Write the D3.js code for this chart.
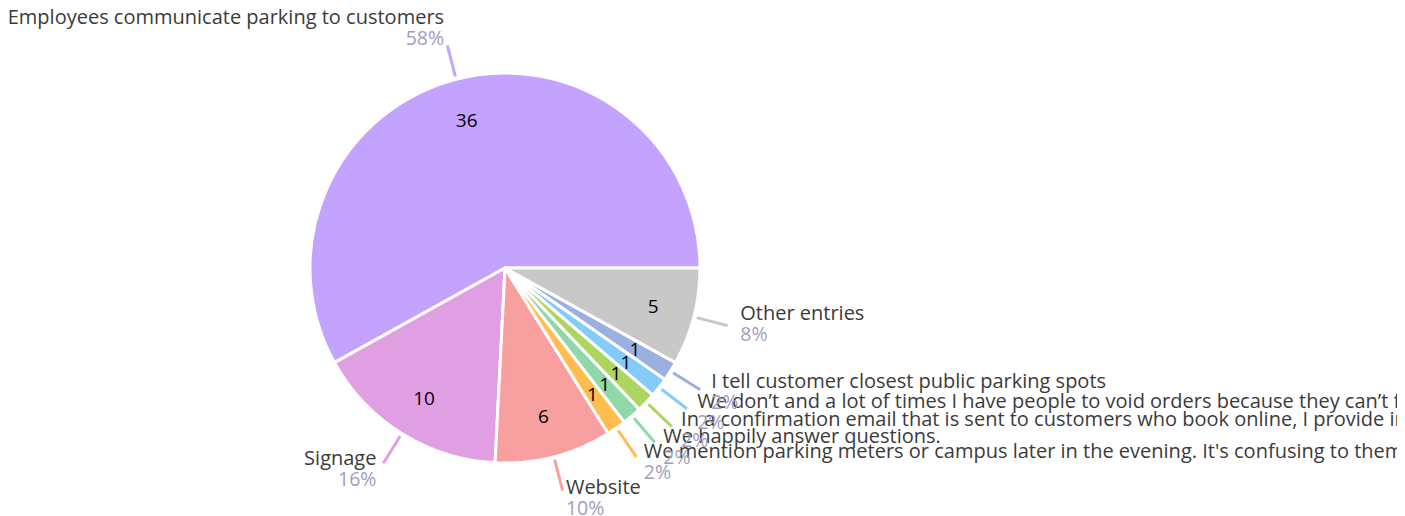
<!DOCTYPE html>
<html lang="en">
<head>
    <meta charset="UTF-8">
    <title>Parking communication</title>
    <script type="text/javascript" src="https://cdn.jsdelivr.net/npm/d3@7"></script>
    <style>
        body { margin: 0; background: #fff; }
        svg { display: block; overflow: hidden; }
        .name { fill: #3b3b3b; font-family: "Open Sans", sans-serif; font-size: 20px; }
        .pct { fill: #a19dbf; font-family: "Open Sans", sans-serif; font-size: 19.5px; }
        .count { fill: #000; font-family: "Open Sans", sans-serif; font-size: 19px; text-anchor: middle; }
    </style>
</head>
<body>
    <div id="chart"></div>

    <script type="text/javascript">

        // answers, in the order the slices run (counter-clockwise from 3 o'clock)
        var categories = [
            "Employees communicate parking to customers",
            "Signage",
            "Website",
            "We mention parking meters or campus later in the evening. It's confusing to them",
            "We happily answer questions.",
            "In a confirmation email that is sent to customers who book online, I provide information",
            "We don’t and a lot of times I have people to void orders because they can’t find parking",
            "I tell customer closest public parking spots",
            "Other entries"
        ];
        var counts = [36, 10, 6, 1, 1, 1, 1, 1, 5];

        var w = 1397,
            h = 516,
            cx = 505,
            cy = 268,
            r = 195;

        var color = d3.scaleOrdinal()
            .domain(categories)
            .range(["#c4a3ff", "#e09fe2", "#f8a09f", "#ffbc4f", "#8fd8a9",
                    "#add562", "#83cbf8", "#9bafe0", "#c8c8c8"]);

        var data = categories.map(function(c, i) { return {label: c, n: counts[i]}; });
        var total = d3.sum(counts);

        var svg = d3.select("#chart")
            .append("svg")
            .attr("width", w)
            .attr("height", h);

        var g = svg.append("g")
            .attr("transform", "translate(" + cx + "," + cy + ")");

        var pie = d3.pie()
            .sort(null)
            .value(function(d) { return d.n; })
            .startAngle(Math.PI / 2)
            .endAngle(Math.PI / 2 - 2 * Math.PI);

        var arcs = pie(data);

        var arc = d3.arc().innerRadius(0).outerRadius(r);

        // slices
        g.selectAll(".slice")
            .data(arcs)
            .enter()
            .append("path")
            .attr("class", "slice")
            .attr("d", arc)
            .attr("fill", function(d) { return color(d.data.label); })
            .attr("stroke", "#fff")
            .attr("stroke-width", 3)
            .attr("stroke-linejoin", "round");

        function mid(d) { return (d.startAngle + d.endAngle) / 2; }
        function pt(d, rr) {
            var a = mid(d);
            return [Math.sin(a) * rr, -Math.cos(a) * rr];
        }

        // counts inside slices
        g.selectAll(".count")
            .data(arcs)
            .enter()
            .append("text")
            .attr("class", "count")
            .attr("x", function(d) { return pt(d, r * 0.785)[0]; })
            .attr("y", function(d) { return pt(d, r * 0.785)[1] + 7; })
            .text(function(d) { return d.data.n; });

        // leader lines
        g.selectAll(".leader")
            .data(arcs)
            .enter()
            .append("line")
            .attr("class", "leader")
            .attr("x1", function(d) { return pt(d, r + 3)[0]; })
            .attr("y1", function(d) { return pt(d, r + 3)[1]; })
            .attr("x2", function(d) { return pt(d, r + 35)[0]; })
            .attr("y2", function(d) { return pt(d, r + 35)[1]; })
            .attr("stroke", function(d) { return color(d.data.label); })
            .attr("stroke-width", 3);

        // outside labels: name + percentage
        var labels = g.selectAll(".label")
            .data(arcs)
            .enter()
            .append("g")
            .attr("class", "label")
            .attr("transform", function(d) {
                var p = pt(d, r + 48);
                return "translate(" + p[0] + "," + p[1] + ")";
            })
            .attr("text-anchor", function(d) { return pt(d, 1)[0] >= 0 ? "start" : "end"; });

        labels.append("text")
            .attr("class", "name")
            .attr("y", -9)
            .text(function(d) { return d.data.label; });

        labels.append("text")
            .attr("class", "pct")
            .attr("y", 12)
            .text(function(d) { return Math.round(d.data.n / total * 100) + "%"; });
    </script>
</body>
</html>
